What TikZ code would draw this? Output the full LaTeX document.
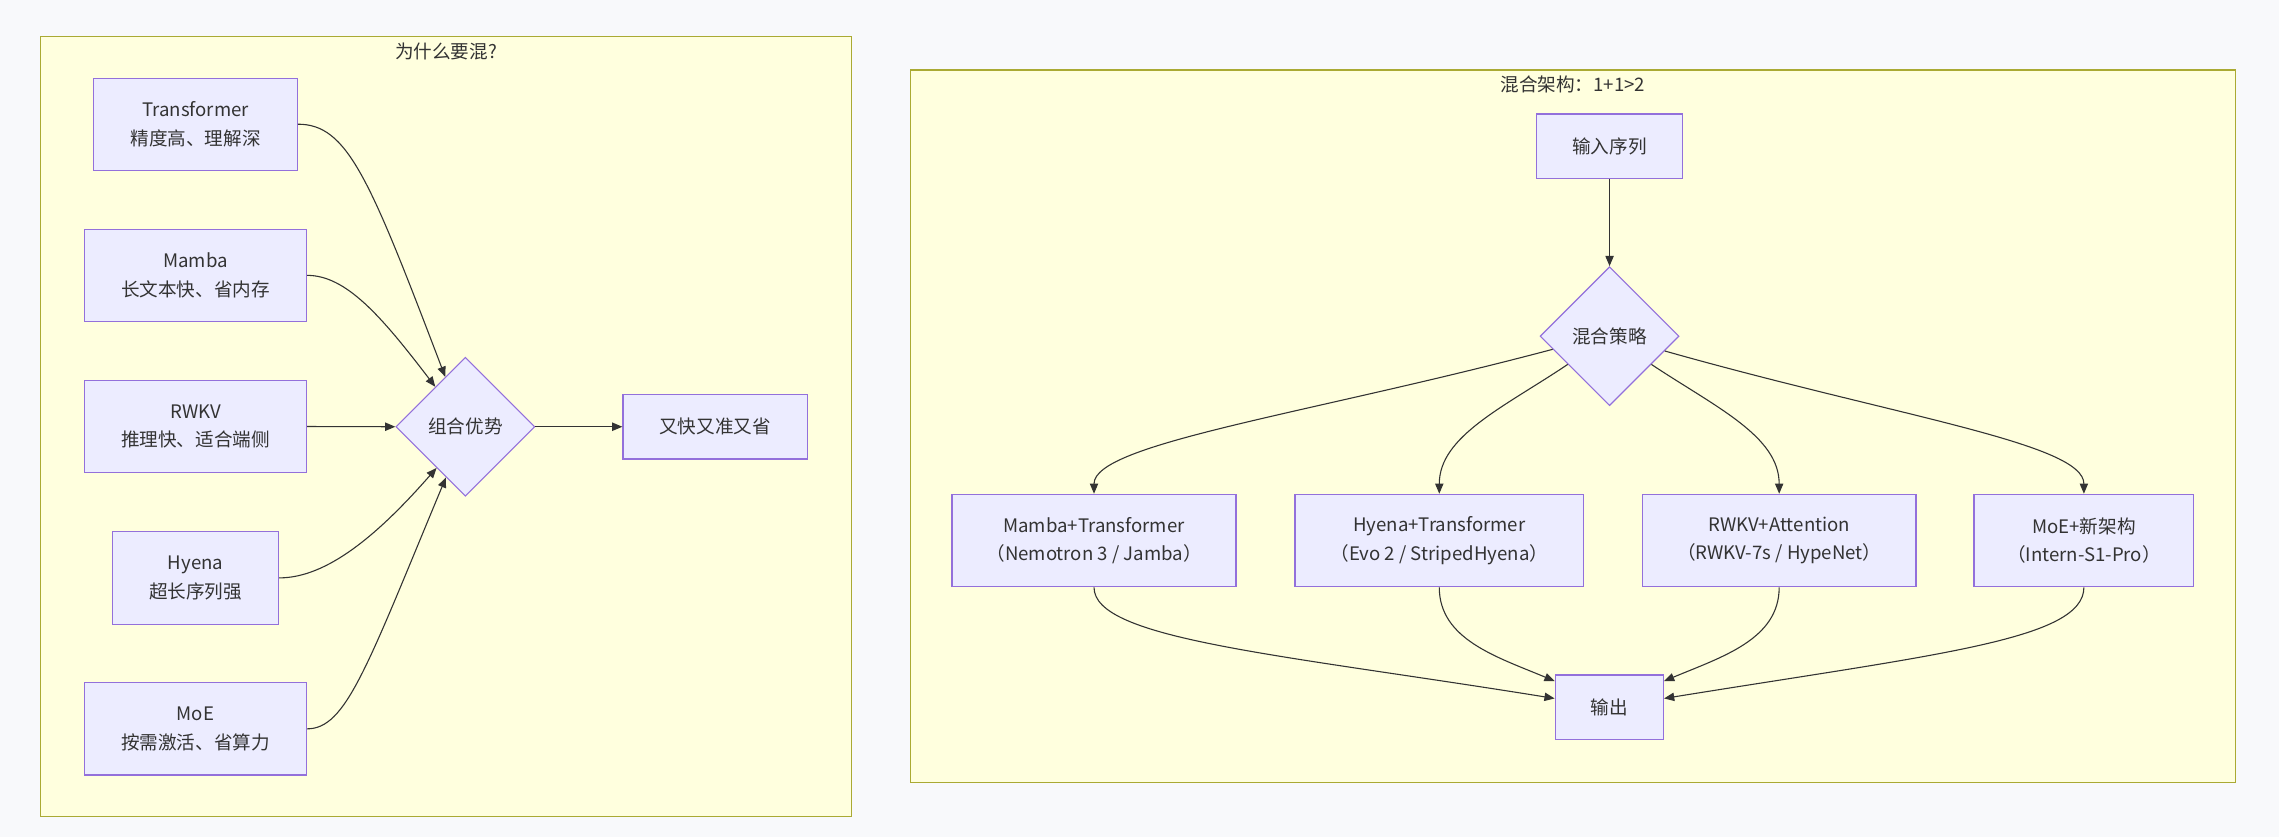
\documentclass[tikz,border=0pt]{standalone}
\usepackage{fontspec}
\setmainfont{Noto Sans CJK SC}
\usetikzlibrary{shapes.geometric,arrows.meta,calc}
\definecolor{bgcol}{HTML}{F8F9FB}
\definecolor{nodefill}{HTML}{ECECFF}
\definecolor{nodeline}{HTML}{9370DB}
\definecolor{clfill}{HTML}{FFFFDE}
\definecolor{clline}{HTML}{AAAA33}
\definecolor{txt}{HTML}{333333}
\begin{document}
\begin{tikzpicture}[x=1pt,y=-1pt,
  box/.style={draw=nodeline, fill=nodefill, line width=0.8pt, inner sep=0pt, align=center, text=txt, font=\fontsize{12.8}{19.5}\selectfont},
  dia/.style={draw=nodeline, fill=nodefill, line width=0.8pt, shape=diamond, inner sep=0pt, minimum width=95.6pt, minimum height=95.6pt, text=txt, font=\fontsize{12.8}{19.5}\selectfont},
  cluster/.style={draw=clline, fill=clfill, line width=0.8pt, inner sep=0pt},
  ttl/.style={text=txt, inner sep=0pt, font=\fontsize{12.8}{19.5}\selectfont},
  conn/.style={draw=txt, line width=0.75pt, -{Triangle[length=7pt,width=5.7pt]}}
]
\useasboundingbox (0,0) rectangle (1568,576);
\fill[bgcol] (0,0) rectangle (1568,576);

% clusters
\node[cluster, minimum width=558.4pt, minimum height=536.3pt] (cla) at (306.8,293.35) {};
\node[cluster, minimum width=911.7pt, minimum height=490.3pt] (clb) at (1082.15,293.35) {};
\node[ttl] (ta) at (306.8,35.5) {为什么要混?};
\node[ttl] (tb) at (1082.15,58) {混合架构：1+1>2};

% left cluster nodes
\node[box, minimum width=140pt, minimum height=63.3pt] (trans) at (134.6,85.45) {Transformer\\精度高、理解深};
\node[box, minimum width=152.8pt, minimum height=63.6pt] (mamba) at (134.5,189.45) {Mamba\\长文本快、省内存};
\node[box, minimum width=152.8pt, minimum height=63.6pt] (rwkv) at (134.5,293.45) {RWKV\\推理快、适合端侧};
\node[box, minimum width=114.3pt, minimum height=63.6pt] (hyena) at (134.55,397.6) {Hyena\\超长序列强};
\node[box, minimum width=152.8pt, minimum height=63.6pt] (moe) at (134.5,501.45) {MoE\\按需激活、省算力};
\node[dia] (combo) at (320.2,293.6) {组合优势};
\node[box, minimum width=126.9pt, minimum height=44.3pt] (result) at (492.05,293.6) {又快又准又省};

% right cluster nodes
\node[box, minimum width=100.4pt, minimum height=44.3pt] (inseq) at (1107.4,100.55) {输入序列};
\node[dia] (strat) at (1107.4,231.3) {混合策略};
\node[box, minimum width=195.4pt, minimum height=63.6pt] (mt) at (752.7,371.9) {Mamba+Transformer\\（Nemotron 3 / Jamba）};
\node[box, minimum width=198.5pt, minimum height=63.6pt] (ht) at (990.25,371.9) {Hyena+Transformer\\（Evo 2 / StripedHyena）};
\node[box, minimum width=188.2pt, minimum height=63.6pt] (ra) at (1224.1,371.9) {RWKV+Attention\\（RWKV-7s / HypeNet）};
\node[box, minimum width=151.3pt, minimum height=63.6pt] (mn) at (1433.75,371.9) {MoE+新架构\\（Intern-S1-Pro）};
\node[box, minimum width=74.5pt, minimum height=44.3pt] (outp) at (1107.25,486.55) {输出};

% left edges
\draw[conn] (trans.east) .. controls (239,85.45) and (254,122) .. (combo.112);
\draw[conn] (mamba.east) .. controls (238,189.45) and (262,217) .. (combo.127);
\draw[conn] (rwkv.east) -- (combo.west);
\draw[conn] (hyena.east) .. controls (225,397.6) and (260,368) .. (combo.235);
\draw[conn] (moe.east) .. controls (238,501.45) and (252,460) .. (combo.249);
\draw[conn] (combo.east) -- (result.west);

% right edges
\draw[conn] (inseq.south) -- (strat.north);
\draw[conn] (strat.193) .. controls (900,285) and (752.7,305) .. (mt.north);
\draw[conn] (strat.214) .. controls (1035,280) and (990.25,300) .. (ht.north);
\draw[conn] (strat.326) .. controls (1180.2,280) and (1224.1,300) .. (ra.north);
\draw[conn] (strat.345) .. controls (1305.7,286.8) and (1433.75,305) .. (mn.north);

\draw[conn] (mt.south) .. controls (752.7,440) and (880,450) .. ([yshift=6pt]outp.west);
\draw[conn] (ht.south) .. controls (990.25,440) and (1030,452) .. ([yshift=-4.6pt]outp.north west);
\draw[conn] (ra.south) .. controls (1224.1,440) and (1184.5,452) .. ([yshift=-4.6pt]outp.north east);
\draw[conn] (mn.south) .. controls (1433.75,440) and (1334,450) .. ([yshift=6pt]outp.east);
\end{tikzpicture}
\end{document}
